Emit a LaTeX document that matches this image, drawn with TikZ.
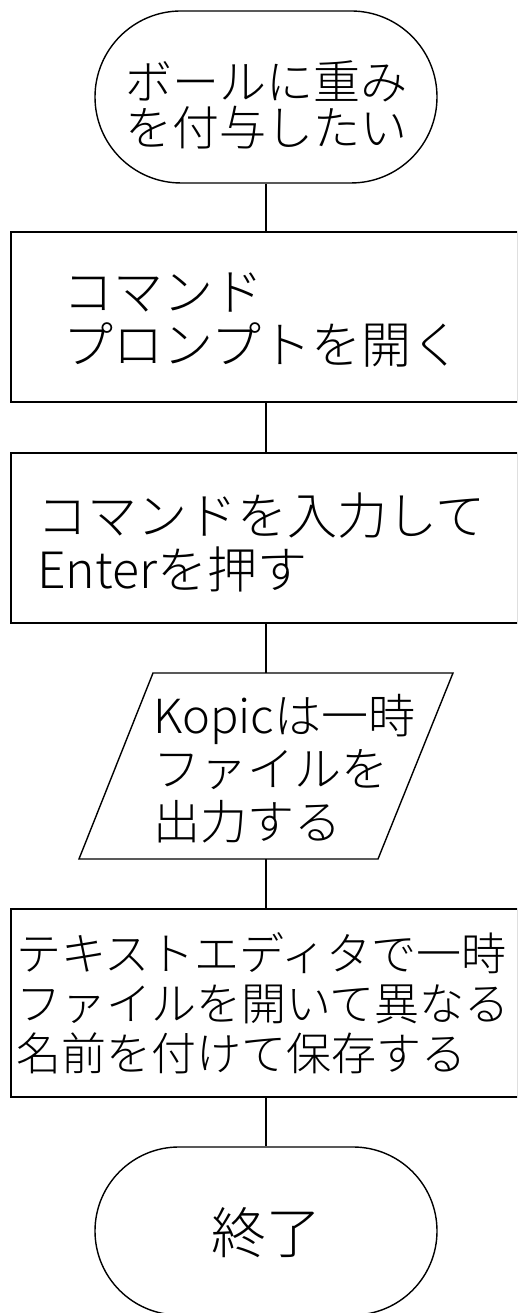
\documentclass[tikz,border=0pt]{standalone}
\usepackage{fontspec}
\setmainfont{Noto Sans CJK JP}[UprightFont = * Light]
\usetikzlibrary{shapes.misc}
\tikzset{
  flowline/.style={line width=1.4pt, black},
  terminal/.style={draw, line width=1.4pt, rounded rectangle, minimum width=342pt, minimum height=172pt, inner sep=0pt},
  procbox/.style={draw, line width=1.4pt, rectangle, inner sep=0pt},
  label/.style={inner sep=0pt, align=left, anchor=west},
}
\begin{document}
\begin{tikzpicture}[x=1pt,y=1pt]
\useasboundingbox (0,0) rectangle (517,1313);
\clip (0,0) rectangle (517,1313);
% start terminal
\node[terminal] (start) at (266,1216) {};
\node[inner sep=0pt, align=center, font=\fontsize{47}{46}\selectfont] (tstart) at (266,1208) {ボールに重み\\を付与したい};
% box 1
\node[procbox, minimum width=507pt, minimum height=170pt] (b1) at (264.5,996) {};
\node[label, font=\fontsize{50}{53}\selectfont] (t1) at (63,993) {コマンド\\プロンプトを開く};
% box 2
\node[procbox, minimum width=507pt, minimum height=170pt] (b2) at (264.5,775) {};
\node[label, font=\fontsize{50}{54}\selectfont] (t2) at (37,771) {コマンドを入力して\\Enterを押す};
% parallelogram
\coordinate (ptop) at (266,640);
\coordinate (pbot) at (266,454);
\draw[flowline, line join=miter] (153,640) -- (453,640) -- (378,454) -- (79,454) -- cycle;
\node[label, font=\fontsize{47}{53}\selectfont] (t3) at (153,544) {Kopicは一時\\ファイルを\\出力する};
% box 3
\node[procbox, minimum width=507pt, minimum height=188pt] (b3) at (264.5,310) {};
\node[label, font=\fontsize{45}{50}\selectfont] (t4) at (16,310) {テキストエディタで一時\\ファイルを開いて異なる\\名前を付けて保存する};
% end terminal
\node[terminal, minimum height=168pt] (stop) at (266,82) {};
\node[inner sep=0pt, font=\fontsize{55}{55}\selectfont] (tstop) at (266,80) {終了};
% connectors
\draw[flowline] (start.south) -- (start.south |- b1.north);
\draw[flowline] (start.south |- b1.south) -- (start.south |- b2.north);
\draw[flowline] (start.south |- b2.south) -- (ptop);
\draw[flowline] (pbot) -- (start.south |- b3.north);
\draw[flowline] (start.south |- b3.south) -- (stop.north);
\end{tikzpicture}
\end{document}
